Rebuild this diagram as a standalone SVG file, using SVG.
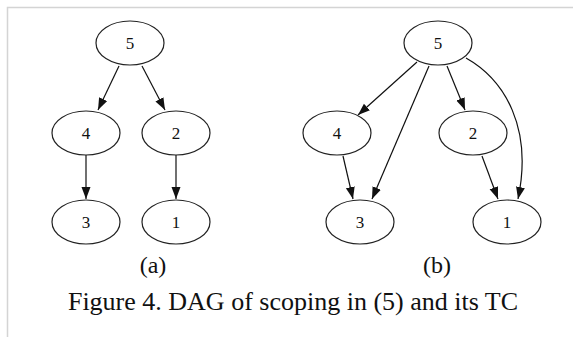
<svg xmlns="http://www.w3.org/2000/svg" width="573" height="337" viewBox="0 0 573 337">
<style>
.n ellipse{fill:#fff;stroke:#222;stroke-width:1.2}
.n text{font-family:"Liberation Serif","Times New Roman",serif;font-size:17px;fill:#111;text-anchor:middle}
.e path{fill:none;stroke:#111;stroke-width:1.2;marker-end:url(#ah)}
.cap{font-family:"Liberation Serif","Times New Roman",serif;fill:#111;text-anchor:middle}
</style>
<defs>
<marker id="ah" markerUnits="userSpaceOnUse" markerWidth="13" markerHeight="10" refX="12" refY="4.5" orient="auto">
<path d="M0,0 L12,4.5 L0,9 z" fill="#111"/>
</marker>
</defs>
<rect width="573" height="337" fill="#fff"/>
<path d="M7.5,337 V7.5 H573" fill="none" stroke="#d4d4d4" stroke-width="1.5"/>
<g id="edges" class="e">
<path d="M119,66 L98,110"/>
<path d="M142,66 L165,110"/>
<path d="M86,155 L86,199"/>
<path d="M176,155 L176,199"/>
<path d="M417,62 L358,115"/>
<path d="M429,66 L372,199"/>
<path d="M447,66 L465,110"/>
<path d="M466,58 C505,80 533,128 518,199"/>
<path d="M343,156 L353,199"/>
<path d="M482,156 L498,199"/>
</g>
<g id="a5" class="n"><ellipse cx="130" cy="43" rx="34" ry="22"/><text x="130" y="49">5</text></g>
<g id="a4" class="n"><ellipse cx="86" cy="133" rx="34" ry="22"/><text x="86" y="139">4</text></g>
<g id="a2" class="n"><ellipse cx="176" cy="133" rx="34" ry="22"/><text x="176" y="139">2</text></g>
<g id="a3" class="n"><ellipse cx="86" cy="222" rx="34" ry="22"/><text x="86" y="228">3</text></g>
<g id="a1" class="n"><ellipse cx="176" cy="222" rx="34" ry="22"/><text x="176" y="228">1</text></g>
<g id="b5" class="n"><ellipse cx="438" cy="43" rx="34" ry="22"/><text x="438" y="49">5</text></g>
<g id="b4" class="n"><ellipse cx="337" cy="133" rx="34" ry="22"/><text x="337" y="139">4</text></g>
<g id="b2" class="n"><ellipse cx="473" cy="133" rx="34" ry="22"/><text x="473" y="139">2</text></g>
<g id="b3" class="n"><ellipse cx="360" cy="222" rx="34" ry="22"/><text x="360" y="228">3</text></g>
<g id="b1" class="n"><ellipse cx="507" cy="222" rx="34" ry="22"/><text x="507" y="228">1</text></g>
<text class="cap" x="153" y="273" font-size="24">(a)</text>
<text class="cap" x="437" y="273" font-size="24">(b)</text>
<text class="cap" x="293" y="310" font-size="26">Figure 4. DAG of scoping in (5) and its TC</text>
</svg>
